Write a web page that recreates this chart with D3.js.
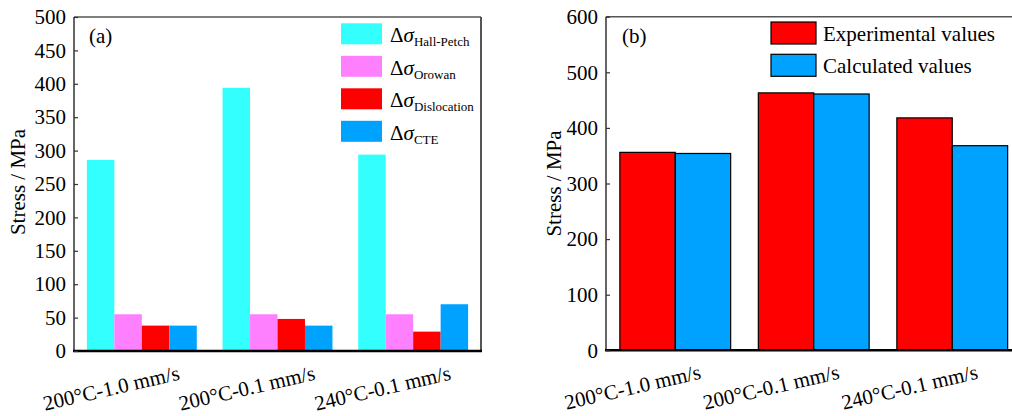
<!DOCTYPE html>
<html>
<head>
<meta charset="utf-8">
<script src="https://cdn.jsdelivr.net/npm/d3@7"></script>
<style>
  body { margin: 0; background: #fff; }
  svg { display: block; }
  svg text { font-family: 'Liberation Serif', 'Times New Roman', Times, 'Nimbus Roman', 'DejaVu Serif', serif; }
</style>
</head>
<body>
<svg id="chart" width="1012" height="416"></svg>
<script>
// values
const categories = ['200°C-1.0 mm/s', '200°C-0.1 mm/s', '240°C-0.1 mm/s'];

const hallPetch = [286, 394, 294];
const orowan = [55, 55, 55];
const dislocation = [38, 48, 29];
const cte = [38, 38, 70];

const experimental = [356, 463, 418];
const calculated = [354, 461, 368];

const ticksA = [0, 50, 100, 150, 200, 250, 300, 350, 400, 450, 500];
const ticksB = [0, 100, 200, 300, 400, 500, 600];

const seriesA = [
  { key: 'hp', sub: 'Hall-Petch', values: hallPetch, fill: '#33ffff' },
  { key: 'or', sub: 'Orowan', values: orowan, fill: '#ff80ff' },
  { key: 'dis', sub: 'Dislocation', values: dislocation, fill: '#ff0000' },
  { key: 'cte', sub: 'CTE', values: cte, fill: '#00a2ff' },
];
const seriesB = [
  { key: 'exp', name: 'Experimental values', values: experimental, fill: '#ff0000' },
  { key: 'calc', name: 'Calculated values', values: calculated, fill: '#00a2ff' },
];

const FONT = 21;
const svg = d3.select('#chart');

function yAxis(g, y, ticks) {
  g.call(d3.axisLeft(y).tickValues(ticks).tickSizeInner(-4).tickSizeOuter(0).tickPadding(8));
  g.attr('font-family', null).attr('font-size', null);
  g.select('.domain').remove();
  g.selectAll('.tick line').attr('stroke', '#333').attr('stroke-width', 1.2);
  g.selectAll('.tick text')
    .attr('fill', '#000')
    .style('font-size', FONT + 'px');
}

function xLabels(g, x0, offset, baseY) {
  g.selectAll('text')
    .data(categories)
    .enter()
    .append('text')
    .attr('transform', c => `translate(${x0(c) + x0.bandwidth() / 2 + offset},${baseY}) rotate(-13)`)
    .attr('text-anchor', 'middle')
    .style('font-size', FONT + 'px')
    .text(c => c);
}

// ---------- panel (a) ----------
const a = { left: 74, right: 481, top: 17, bottom: 351 };
const xA = d3.scaleBand().domain(categories).range([a.left, a.right]).paddingInner(0.19).paddingOuter(0.095);
const xA1 = d3.scaleBand().domain(seriesA.map(s => s.key)).range([0, xA.bandwidth()]);
const yA = d3.scaleLinear().domain([0, 500]).range([a.bottom, a.top]);

const gA = svg.append('g');
gA.selectAll('g.series')
  .data(seriesA)
  .enter()
  .append('g')
  .attr('fill', s => s.fill)
  .selectAll('rect')
  .data(s => s.values.map((v, i) => ({ key: s.key, cat: categories[i], v })))
  .enter()
  .append('rect')
  .attr('x', d => xA(d.cat) + xA1(d.key))
  .attr('width', xA1.bandwidth())
  .attr('y', d => yA(d.v))
  .attr('height', d => yA(0) - yA(d.v));

gA.append('line').attr('x1', a.left).attr('x2', a.right).attr('y1', a.top).attr('y2', a.top)
  .attr('stroke', '#555').attr('stroke-width', 1.5);
gA.append('line').attr('x1', a.right).attr('x2', a.right).attr('y1', a.top).attr('y2', a.bottom)
  .attr('stroke', '#555').attr('stroke-width', 2);
gA.append('line').attr('x1', a.left).attr('x2', a.left).attr('y1', a.top).attr('y2', a.bottom)
  .attr('stroke', '#333').attr('stroke-width', 1.5);
gA.append('line').attr('x1', a.left - 1).attr('x2', a.right + 1).attr('y1', a.bottom).attr('y2', a.bottom)
  .attr('stroke', '#000').attr('stroke-width', 2.5);

gA.append('g').attr('transform', `translate(${a.left},0)`).call(g => yAxis(g, yA, ticksA));
xLabels(gA.append('g'), xA, -29, 395);

gA.append('text').attr('transform', `translate(25,${(a.top + a.bottom) / 2 - 2}) rotate(-90)`)
  .attr('text-anchor', 'middle').style('font-size', FONT + 'px').text('Stress / MPa');
gA.append('text').attr('x', 89).attr('y', 43).style('font-size', FONT + 'px').text('(a)');

// legend (a)
const legA = gA.append('g');
const rowA = legA.selectAll('g').data(seriesA).enter().append('g')
  .attr('transform', (s, i) => `translate(341,${23.3 + i * 32.5})`);
rowA.append('rect').attr('width', 41).attr('height', 21).attr('fill', s => s.fill);
const tA = rowA.append('text').attr('x', 49).attr('y', 19).style('font-size', FONT + 'px');
tA.append('tspan').text('Δ');
tA.append('tspan').style('font-style', 'italic').text('σ');
tA.append('tspan').attr('dy', 4).style('font-size', '13px').text(s => s.sub);

// ---------- panel (b) ----------
const b = { left: 606, top: 16.7, bottom: 350.3 };
const stepB = 138.5;
const xB = d3.scaleBand().domain(categories).range([b.left, b.left + stepB * categories.length]).paddingInner(0.2).paddingOuter(0.1);
const xB1 = d3.scaleBand().domain(seriesB.map(s => s.key)).range([0, xB.bandwidth()]);
const yB = d3.scaleLinear().domain([0, 600]).range([b.bottom, b.top]);

const gB = svg.append('g');
gB.selectAll('g.series')
  .data(seriesB)
  .enter()
  .append('g')
  .attr('fill', s => s.fill)
  .selectAll('rect')
  .data(s => s.values.map((v, i) => ({ key: s.key, cat: categories[i], v })))
  .enter()
  .append('rect')
  .attr('x', d => xB(d.cat) + xB1(d.key))
  .attr('width', xB1.bandwidth())
  .attr('y', d => yB(d.v))
  .attr('height', d => yB(0) - yB(d.v))
  .attr('stroke', '#000')
  .attr('stroke-width', 1.2);

gB.append('line').attr('x1', b.left).attr('x2', 1012).attr('y1', b.top).attr('y2', b.top)
  .attr('stroke', '#555').attr('stroke-width', 1.5);
gB.append('line').attr('x1', b.left).attr('x2', b.left).attr('y1', b.top).attr('y2', b.bottom)
  .attr('stroke', '#333').attr('stroke-width', 1.5);
gB.append('line').attr('x1', b.left - 1).attr('x2', 1012).attr('y1', b.bottom).attr('y2', b.bottom)
  .attr('stroke', '#000').attr('stroke-width', 2.5);

gB.append('g').attr('transform', `translate(${b.left},0)`).call(g => yAxis(g, yB, ticksB));
xLabels(gB.append('g'), xB, -41, 394);

gB.append('text').attr('transform', `translate(561,${(b.top + b.bottom) / 2}) rotate(-90)`)
  .attr('text-anchor', 'middle').style('font-size', FONT + 'px').text('Stress / MPa');
gB.append('text').attr('x', 622).attr('y', 43).style('font-size', FONT + 'px').text('(b)');

// legend (b)
const rowB = gB.append('g').selectAll('g').data(seriesB).enter().append('g')
  .attr('transform', (s, i) => `translate(771,${22 + i * 32.3})`);
rowB.append('rect').attr('width', 45).attr('height', 22).attr('fill', s => s.fill)
  .attr('stroke', '#000').attr('stroke-width', 1.2);
rowB.append('text').attr('x', 52).attr('y', 18.5).style('font-size', FONT + 'px').text(s => s.name);
</script>
</body>
</html>
